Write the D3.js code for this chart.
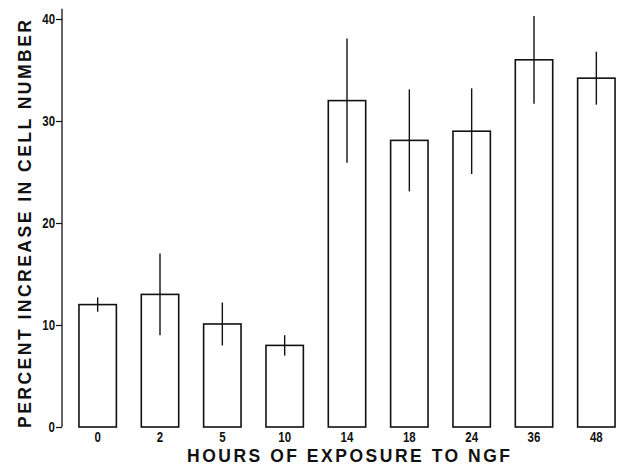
<!DOCTYPE html>
<html>
<head>
<meta charset="utf-8">
<script src="https://cdn.jsdelivr.net/npm/d3@7"></script>
<style>
  html, body { margin: 0; padding: 0; background: #fff; }
  svg { display: block; }
</style>
</head>
<body>
<svg id="chart" width="617" height="465"></svg>
<script>
const categories = ["0", "2", "5", "10", "14", "18", "24", "36", "48"];
const values = [12.0, 13.0, 10.1, 8.0, 32.0, 28.1, 29.0, 36.0, 34.2];
const errors = [0.7, 4.0, 2.1, 1.0, 6.1, 5.0, 4.2, 4.3, 2.6];
const yTicks = [0, 10, 20, 30, 40];
const xTitle = "HOURS OF EXPOSURE TO NGF";
const yTitle = "PERCENT INCREASE IN CELL NUMBER";

const svg = d3.select("#chart");
const axisX = 62;
const numFont = "'Liberation Sans Narrow', 'Liberation Sans', Arial, sans-serif";
const titleFont = "'Liberation Sans', Arial, sans-serif";

const y = d3.scaleLinear().domain([0, 40]).range([427, 19]);
const x = d3.scaleBand().domain(categories).range([66.5, 627.5])
  .paddingInner(0.4).paddingOuter(0.2);

// y axis
const yAxis = d3.axisLeft(y).tickValues(yTicks).tickSize(6).tickPadding(1).tickFormat(d3.format("d"));
const gy = svg.append("g").attr("transform", `translate(${axisX},0)`).call(yAxis);
gy.select(".domain").remove();
gy.selectAll(".tick line").attr("stroke", "#111").attr("stroke-width", 1.2);
gy.selectAll(".tick text")
  .attr("font-family", numFont)
  .attr("font-weight", "bold").attr("font-size", 14).attr("fill", "#111")
  .attr("transform", "translate(-7,0) scale(0.82,1) translate(7,0)");
gy.append("line").attr("x1", 0).attr("x2", 0)
  .attr("y1", y(0)).attr("y2", y(41)).attr("stroke", "#111").attr("stroke-width", 1.3);

// bars
svg.append("g").selectAll("rect").data(categories).join("rect")
  .attr("x", d => x(d)).attr("width", x.bandwidth())
  .attr("y", (d, i) => y(values[i])).attr("height", (d, i) => y(0) - y(values[i]))
  .attr("fill", "#fff").attr("stroke", "#111").attr("stroke-width", 1.6);

// error bars
svg.append("g").selectAll("line").data(categories).join("line")
  .attr("x1", d => x(d) + x.bandwidth() / 2).attr("x2", d => x(d) + x.bandwidth() / 2)
  .attr("y1", (d, i) => y(values[i] + errors[i])).attr("y2", (d, i) => y(values[i] - errors[i]))
  .attr("stroke", "#111").attr("stroke-width", 1.4);

// x tick labels
svg.append("g").selectAll("text").data(categories).join("text")
  .attr("transform", d => `translate(${x(d) + x.bandwidth() / 2},${y(0) + 15}) scale(0.82,1)`)
  .attr("text-anchor", "middle")
  .attr("font-family", numFont)
  .attr("font-weight", "bold").attr("font-size", 14).attr("fill", "#111")
  .text(d => d);

// x title
svg.append("text")
  .attr("x", 187).attr("y", 462)
  .attr("font-family", titleFont).attr("font-weight", "bold")
  .attr("font-size", 17.5).attr("fill", "#111")
  .attr("textLength", 323).attr("lengthAdjust", "spacing")
  .text(xTitle);

// y title
svg.append("text")
  .attr("transform", "translate(31,428) rotate(-90)")
  .attr("x", 0).attr("y", 0)
  .attr("font-family", titleFont).attr("font-weight", "bold")
  .attr("font-size", 17.5).attr("fill", "#111")
  .attr("textLength", 408).attr("lengthAdjust", "spacing")
  .text(yTitle);
</script>
</body>
</html>
